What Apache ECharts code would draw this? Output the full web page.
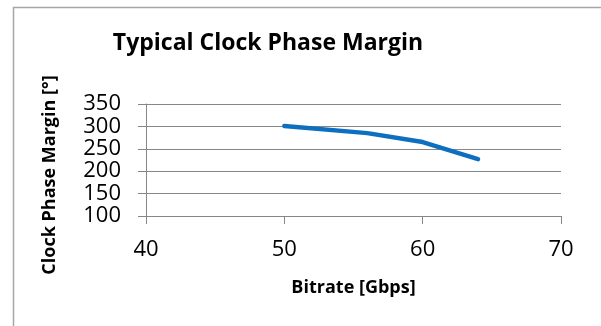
<!DOCTYPE html>
<html>
<head>
<meta charset="utf-8">
<script src="https://cdn.jsdelivr.net/npm/echarts@6/dist/echarts.min.js"></script>
<style>
  html, body { margin: 0; padding: 0; background: #fff; }
  #chart { width: 601px; height: 326px; }
</style>
</head>
<body>
<div id="chart"></div>
<script>
// Measured clock phase margin versus bitrate
const bitrate = [50, 56, 60, 64];
const phaseMargin = [301, 285, 265, 227];
const yTicks = [100, 150, 200, 250, 300, 350];
const xTicks = [40, 50, 60, 70];

const gray = '#868686';
const fontFamily = '"Open Sans", sans-serif';

const chart = echarts.init(document.getElementById('chart'));
chart.setOption({
  animation: false,
  backgroundColor: '#fff',
  title: {
    text: 'Typical Clock Phase Margin',
    left: 263, top: 27, textAlign: 'center',
    textStyle: { fontFamily, fontWeight: 'bold', fontSize: 23, color: '#000' }
  },
  graphic: [
    {
      type: 'rect', silent: true, z: -1,
      shape: { x: 13.5, y: 7.5, width: 700, height: 400 },
      style: { fill: 'none', stroke: '#a6a6a6', lineWidth: 1.5 }
    },
    {
      type: 'text', silent: true,
      x: 50, y: 175, rotation: Math.PI / 2,
      style: {
        text: 'Clock Phase Margin [°]',
        font: 'bold 18px ' + fontFamily,
        fill: '#000', align: 'center', verticalAlign: 'middle'
      }
    }
  ],
  grid: { left: 146, right: 40, top: 104, bottom: 110, containLabel: false },
  xAxis: {
    type: 'value',
    min: xTicks[0], max: xTicks[xTicks.length - 1], interval: 10,
    name: 'Bitrate [Gbps]', nameLocation: 'middle', nameGap: 63,
    nameTextStyle: { fontFamily, fontWeight: 'bold', fontSize: 18, color: '#000' },
    axisLine: { show: true, lineStyle: { color: gray, width: 1 } },
    axisTick: { show: true, length: 8, lineStyle: { color: gray } },
    axisLabel: { fontFamily, fontSize: 22, color: '#000', margin: 23 },
    splitLine: { show: false }
  },
  yAxis: {
    type: 'value',
    min: yTicks[0], max: yTicks[yTicks.length - 1], interval: 50,
    axisLine: { show: true, lineStyle: { color: gray, width: 1 } },
    axisTick: { show: true, length: 8, lineStyle: { color: gray } },
    axisLabel: { fontFamily, fontSize: 22, color: '#000', margin: 25, lineHeight: 20 },
    splitLine: { show: true, lineStyle: { color: gray, width: 1 } }
  },
  series: [{
    type: 'line',
    data: bitrate.map((b, i) => [b, phaseMargin[i]]),
    showSymbol: false,
    lineStyle: { color: '#0e6fc1', width: 4.5, cap: 'round', join: 'round' }
  }]
});
</script>
</body>
</html>
